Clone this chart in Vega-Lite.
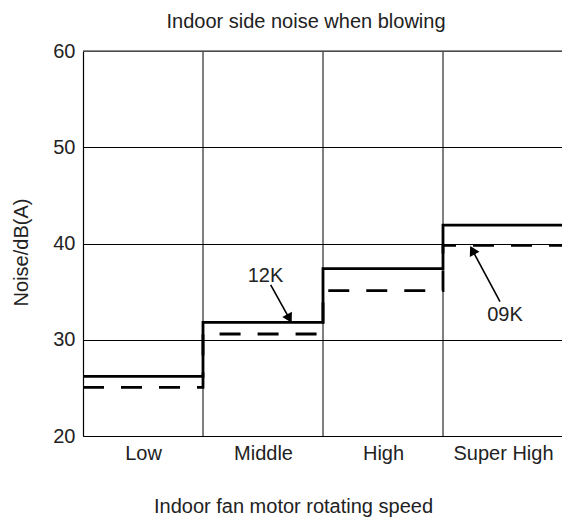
{
  "$schema": "https://vega.github.io/schema/vega-lite/v6.json",
  "width": 480,
  "height": 385,
  "autosize": {"type": "none"},
  "padding": {"left": 83, "top": 51, "right": 0, "bottom": 82},
  "background": "white",
  "config": {
    "font": "Liberation Sans",
    "view": {"stroke": null},
    "axis": {"labelFont": "Liberation Sans", "titleFont": "Liberation Sans", "labelColor": "#222", "titleColor": "#222"}
  },
  "title": {"text": "Indoor side noise when blowing", "fontSize": 20, "fontWeight": "normal", "color": "#222", "offset": 15, "baseline": "alphabetic", "anchor": "middle", "dx": -17, "dy": 22},
  "datasets": {
    "series": [
      {"pos": 0, "speed": "Low", "model": "12K", "noise": 26.2},
      {"pos": 1, "speed": "Middle", "model": "12K", "noise": 31.8},
      {"pos": 2, "speed": "High", "model": "12K", "noise": 37.4},
      {"pos": 3, "speed": "Super High", "model": "12K", "noise": 41.9},
      {"pos": 4, "speed": "end", "model": "12K", "noise": 41.9},
      {"pos": 0, "speed": "Low", "model": "09K", "noise": 25.05},
      {"pos": 1, "speed": "Middle", "model": "09K", "noise": 30.6},
      {"pos": 2, "speed": "High", "model": "09K", "noise": 35.1},
      {"pos": 3, "speed": "Super High", "model": "09K", "noise": 39.8},
      {"pos": 4, "speed": "end", "model": "09K", "noise": 39.8}
    ],
    "vgrid": [{"pos": 1}, {"pos": 2}, {"pos": 3}],
    "labels": [
      {"label": "12K", "x": 1.521, "y": 36.0},
      {"label": "09K", "x": 3.517, "y": 31.95}
    ],
    "arrows": [
      {"label": "12K", "x": 1.564, "y": 35.7, "x2": 1.72, "y2": 32.2},
      {"label": "09K", "x": 3.475, "y": 33.95, "x2": 3.245, "y2": 39.3}
    ]
  },
  "layer": [
    {
      "data": {"name": "vgrid"},
      "mark": {"type": "rule", "color": "#000", "strokeWidth": 1},
      "encoding": {
        "x": {
          "field": "pos", "type": "quantitative",
          "scale": {"domain": [0, 4], "nice": false, "zero": false},
          "axis": {
            "values": [0.5, 1.5, 2.5, 3.5],
            "labelExpr": "['Low','Middle','High','Super High'][floor(datum.value)]",
            "labelFontSize": 20, "labelPadding": 7, "ticks": false, "grid": false,
            "domain": true, "domainColor": "#000", "domainWidth": 1.2,
            "title": "Indoor fan motor rotating speed", "titleFontSize": 20, "titleFontWeight": "normal",
            "titlePadding": 33, "titleX": 210, "titleAlign": "center"
          }
        }
      }
    },
    {
      "data": {"values": [{"v": 60}]},
      "mark": {"type": "rule", "color": "#666", "strokeWidth": 1.5},
      "encoding": {"y": {"field": "v", "type": "quantitative"}}
    },
    {
      "data": {"name": "series"},
      "transform": [{"filter": "datum.model === '12K'"}],
      "mark": {"type": "line", "interpolate": "step-after", "color": "#000", "strokeWidth": 2.8},
      "encoding": {
        "x": {"field": "pos", "type": "quantitative"},
        "y": {
          "field": "noise", "type": "quantitative",
          "scale": {"domain": [20, 60], "nice": false, "zero": false},
          "axis": {
            "values": [20, 30, 40, 50, 60],
            "labelFontSize": 20, "labelPadding": 8, "ticks": false,
            "grid": true, "gridColor": "#000", "gridWidth": 1, "gridOpacity": 1,
            "domain": true, "domainColor": "#000", "domainWidth": 1.2,
            "title": "Noise/dB(A)", "titleFontSize": 20, "titleFontWeight": "normal", "titlePadding": 21,
            "titleY": 201
          }
        }
      }
    },
    {
      "data": {"name": "series"},
      "transform": [{"filter": "datum.model === '09K'"}],
      "mark": {"type": "line", "interpolate": "step-after", "color": "#000", "strokeWidth": 2.8, "strokeDash": [21, 17]},
      "encoding": {
        "x": {"field": "pos", "type": "quantitative"},
        "y": {"field": "noise", "type": "quantitative"}
      }
    },
    {
      "data": {"name": "arrows"},
      "mark": {"type": "rule", "color": "#000", "strokeWidth": 1.6},
      "encoding": {
        "x": {"field": "x", "type": "quantitative"},
        "y": {"field": "y", "type": "quantitative"},
        "x2": {"field": "x2"},
        "y2": {"field": "y2"}
      }
    },
    {
      "data": {"name": "arrows"},
      "transform": [{"filter": "datum.label === '12K'"}],
      "mark": {"type": "point", "shape": "triangle-up", "filled": true, "color": "#000", "opacity": 1, "size": 120, "angle": 151},
      "encoding": {
        "x": {"field": "x2", "type": "quantitative"},
        "y": {"field": "y2", "type": "quantitative"}
      }
    },
    {
      "data": {"name": "arrows"},
      "transform": [{"filter": "datum.label === '09K'"}],
      "mark": {"type": "point", "shape": "triangle-up", "filled": true, "color": "#000", "opacity": 1, "size": 120, "angle": 332},
      "encoding": {
        "x": {"field": "x2", "type": "quantitative"},
        "y": {"field": "y2", "type": "quantitative"}
      }
    },
    {
      "data": {"name": "labels"},
      "mark": {"type": "text", "fontSize": 20, "color": "#222", "align": "center", "baseline": "alphabetic"},
      "encoding": {
        "x": {"field": "x", "type": "quantitative"},
        "y": {"field": "y", "type": "quantitative"},
        "text": {"field": "label"}
      }
    }
  ]
}
